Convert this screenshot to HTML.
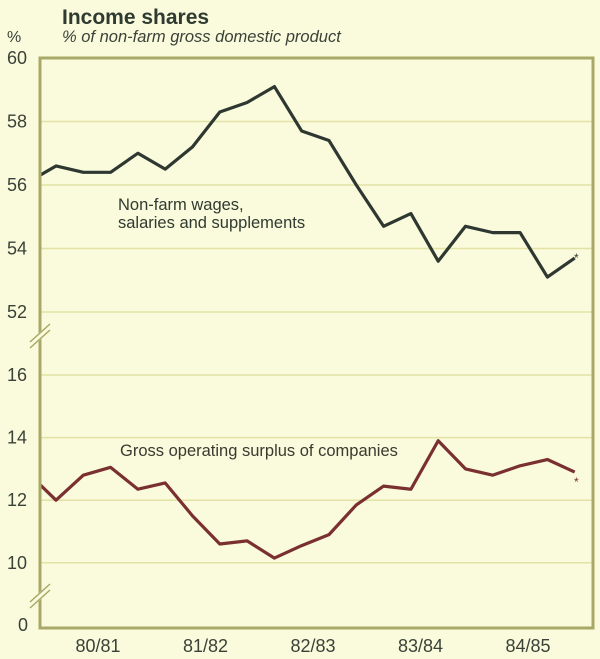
<!DOCTYPE html>
<html><head><meta charset="utf-8"><style>
body{margin:0;background:#fafadc;}
svg{display:block;font-family:"Liberation Sans",sans-serif;}
</style></head><body>
<svg width="600" height="659" viewBox="0 0 600 659">
<rect x="0" y="0" width="600" height="659" fill="#fafadc"/>
<text x="62" y="24" font-size="21" font-weight="bold" fill="#2f3a30">Income shares</text>
<text x="62" y="42" font-size="16.5" font-style="italic" fill="#3a4238">% of non-farm gross domestic product</text>
<text x="7" y="42" font-size="16" fill="#3a4238">%</text>
<defs><clipPath id="pc"><rect x="40" y="58" width="553" height="570"/></clipPath></defs>
<g id="grid"></g>
<g id="ylabels"></g>
<g id="xlabels"></g>
<g id="series" clip-path="url(#pc)"></g>
<rect x="40" y="58" width="553" height="570" fill="none" stroke="#a8a868" stroke-width="3"/>
<g stroke="#fafadc" stroke-width="6"><line x1="30" y1="345" x2="50" y2="327"/></g>
<g stroke="#a8a868" stroke-width="1.5"><line x1="30" y1="348" x2="50" y2="330"/><line x1="30" y1="342" x2="50" y2="324"/></g>
<g stroke="#fafadc" stroke-width="6"><line x1="30" y1="605" x2="50" y2="587"/></g>
<g stroke="#a8a868" stroke-width="1.5"><line x1="30" y1="608" x2="50" y2="590"/><line x1="30" y1="602" x2="50" y2="584"/></g>
<text x="118" y="210" font-size="16.5" fill="#2f3a30">Non-farm wages,</text>
<text x="118" y="228" font-size="16.5" fill="#2f3a30">salaries and supplements</text>
<text x="120" y="456" font-size="16.5" fill="#3a3a30">Gross operating surplus of companies</text>
<text x="574" y="262" font-size="12" fill="#2f3a30">*</text>
<text x="574" y="486" font-size="12" fill="#7a3030">*</text>
</svg>
<script>
const wages=[56.1,56.6,56.4,56.4,57.0,56.5,57.2,58.3,58.6,59.1,57.7,57.4,56.0,54.7,55.1,53.6,54.7,54.5,54.5,53.1,53.7];
const surplus=[12.85,12.0,12.8,13.05,12.35,12.55,11.5,10.6,10.7,10.15,10.55,10.9,11.85,12.45,12.35,13.9,13.0,12.8,13.1,13.3,12.9];
const upperTicks=[60,58,56,54,52];
const lowerTicks=[16,14,12,10];
const yearLabels=["80/81","81/82","82/83","83/84","84/85"];
const NS="http://www.w3.org/2000/svg";
function xs(i){return 56+(i-1)*27.3;}
function yUp(v){return 58+(60-v)*31.75;}
function yLo(v){return 375+(16-v)*31.3;}
function mk(t,a,p){const e=document.createElementNS(NS,t);for(const k in a)e.setAttribute(k,a[k]);p.appendChild(e);return e;}
const grid=document.getElementById('grid'),yl=document.getElementById('ylabels'),xl=document.getElementById('xlabels'),se=document.getElementById('series');
upperTicks.forEach(v=>{
 if(v!==60){const g=mk('line',{x1:40,x2:593,y1:yUp(v),y2:yUp(v),stroke:'#e2e2a4','stroke-width':1.5},grid);
 
 }
 const t=mk('text',{x:7,y:yUp(v)+6,'font-size':18,fill:'#3a4238'},yl);t.textContent=v;
 
 
});
lowerTicks.forEach(v=>{
 const g=mk('line',{x1:40,x2:593,y1:yLo(v),y2:yLo(v),stroke:'#e2e2a4','stroke-width':1.5},grid);
 
 
 const t=mk('text',{x:7,y:yLo(v)+6,'font-size':18,fill:'#3a4238'},yl);t.textContent=v;
 
 
});
const z=mk('text',{x:18,y:631,'font-size':18,fill:'#3a4238'},yl);z.textContent='0';


yearLabels.forEach((l,k)=>{
 const t=mk('text',{x:98+107.5*k,y:652,'font-size':18,fill:'#3a4238','text-anchor':'middle'},xl);t.textContent=l;
 
 
});
const p1=mk('polyline',{points:wages.map((v,i)=>xs(i)+','+yUp(v)).join(' '),fill:'none',stroke:'#2e3830','stroke-width':3.2,'stroke-linejoin':'round'},se);


const p2=mk('polyline',{points:surplus.map((v,i)=>xs(i)+','+yLo(v)).join(' '),fill:'none',stroke:'#7a3030','stroke-width':3.2,'stroke-linejoin':'round'},se);


</script>
</body></html>
